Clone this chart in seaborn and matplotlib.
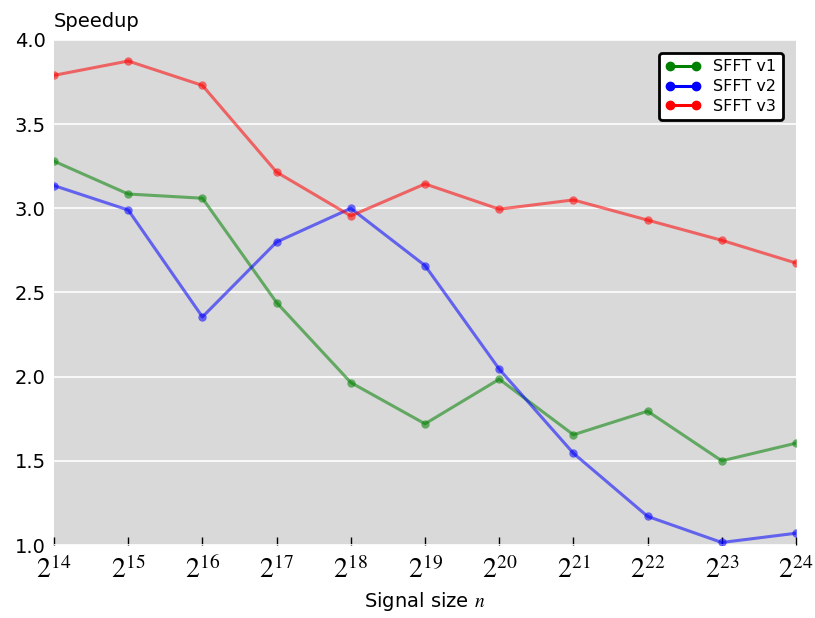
import numpy as np
import pandas as pd
import matplotlib
matplotlib.use("Agg")
import matplotlib.pyplot as plt
from matplotlib.lines import Line2D
import seaborn as sns

# Signal sizes as powers of two
exponents = [14, 15, 16, 17, 18, 19, 20, 21, 22, 23, 24]
series_names = ["SFFT v1", "SFFT v2", "SFFT v3"]
speedup_v1 = [3.28, 3.085, 3.06, 2.44, 1.965, 1.72, 1.985, 1.655, 1.795, 1.50, 1.605]
speedup_v2 = [3.135, 2.99, 2.355, 2.80, 3.00, 2.66, 2.045, 1.545, 1.17, 1.015, 1.07]
speedup_v3 = [3.79, 3.875, 3.73, 3.215, 2.955, 3.145, 2.995, 3.05, 2.93, 2.81, 2.675]
series_colors = ["green", "blue", "red"]

df = pd.DataFrame({
    "exp": exponents * 3,
    "speedup": speedup_v1 + speedup_v2 + speedup_v3,
    "impl": [n for n in series_names for _ in exponents],
})

sns.set_theme(style="darkgrid")
plt.rcParams["font.family"] = ["DejaVu Sans"]
plt.rcParams["mathtext.fontset"] = "stix"
plt.rcParams["text.color"] = "black"
plt.rcParams["axes.labelcolor"] = "black"
plt.rcParams["xtick.color"] = "black"
plt.rcParams["ytick.color"] = "black"

fig = plt.figure(figsize=(8.15, 6.18), dpi=100)
ax = fig.add_axes([0.0663, 0.1181, 0.9104, 0.8172])
ax.set_facecolor("#d9d9d9")

palette = dict(zip(series_names, series_colors))
sns.lineplot(data=df, x="exp", y="speedup", hue="impl", palette=palette,
             marker="o", markersize=6, markeredgewidth=0, linewidth=2.2,
             alpha=0.55, ax=ax, legend=False)

ax.set_xlim(exponents[0], exponents[-1])
ax.set_ylim(1.0, 4.0)
ax.set_yticks(np.arange(1.0, 4.01, 0.5))
ax.set_yticklabels([f"{v:.1f}" for v in np.arange(1.0, 4.01, 0.5)], fontsize=14)
ax.set_xticks(exponents)
ax.set_xticklabels([f"$2^{{{e}}}$" for e in exponents], fontsize=20)

ax.grid(axis="y", color="white", linewidth=1.2)
ax.grid(axis="x", visible=False)
for s in ax.spines.values():
    s.set_visible(False)
ax.tick_params(axis="x", direction="in", length=6, width=1, color="black",
               bottom=True, pad=8)
ax.tick_params(axis="y", length=0, pad=6)

ax.set_xlabel("Signal size $n$", fontsize=14, labelpad=4)
ax.set_ylabel("")
fig.text(0.066, 0.95, "Speedup", fontsize=14, ha="left", va="bottom")

handles = [Line2D([0], [0], color=c, marker="o", markersize=6, linewidth=2.2)
           for c in series_colors]
leg = ax.legend(handles, series_names, loc="upper right", fontsize=11.5,
                numpoints=2, frameon=True, fancybox=True, framealpha=1,
                borderpad=0.4, handlelength=2.2, labelspacing=0.3,
                bbox_to_anchor=(0.993, 0.99))
leg.get_frame().set_edgecolor("black")
leg.get_frame().set_linewidth(2)
leg.get_frame().set_facecolor("white")

fig.savefig("out.png", dpi=100)
